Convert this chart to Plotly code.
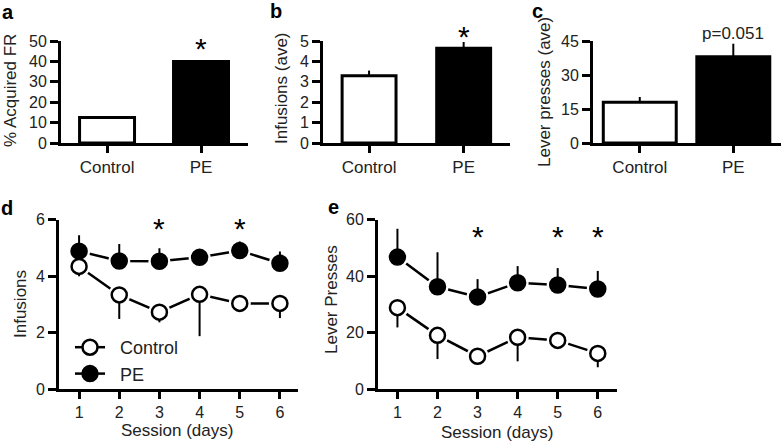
import plotly.graph_objects as go

W, H = 781, 443

# ---------------- data ----------------
groups = ["Control", "PE"]
acquired_fr = [12.5, 40.0]
infusions_ave = [3.3, 4.65]
infusions_ave_err = [0.25, 0.3]
lever_ave = [18.0, 38.0]
lever_ave_err = [2.3, 5.8]

sessions = [1, 2, 3, 4, 5, 6]
inf_control = [4.34, 3.33, 2.72, 3.35, 3.03, 3.03]
inf_control_err = [0.35, 0.85, 0.36, 1.48, 0.1, 0.52]
inf_pe = [4.88, 4.53, 4.52, 4.66, 4.9, 4.45]
inf_pe_err = [0.56, 0.6, 0.46, 0.29, 0.32, 0.42]

lp_control = [28.8, 19.0, 11.6, 18.3, 17.2, 12.6]
lp_control_err = [7.0, 8.4, 2.8, 8.5, 2.0, 4.9]
lp_pe = [46.7, 36.2, 32.6, 37.6, 36.8, 35.4]
lp_pe_err = [10.0, 12.2, 6.3, 5.9, 6.0, 6.4]

sig_a = [("PE", 48.5)]
sig_b = [("PE", 5.44)]
pval_c = [("PE", 48.5, "p=0.051")]
sig_d = [(3, 5.84), (5, 5.84)]
sig_e = [(3, 55.4), (5, 55.4), (6, 55.4)]

FONT = "Liberation Sans, Arial, Helvetica, sans-serif"
TXT = "#222"


def px(x):
    return x / W


def py(y):
    return 1 - y / H


fig = go.Figure()

# ---------------- bar panels ----------------
bar_panels = [
    ("x", "y", acquired_fr, [0, 0], 0.585),
    ("x2", "y2", infusions_ave, infusions_ave_err, 0.57),
    ("x3", "y3", lever_ave, lever_ave_err, 0.78),
]
for xa, ya, vals, errs, bw in bar_panels:
    fig.add_trace(go.Bar(
        x=groups, y=vals, xaxis=xa, yaxis=ya, width=bw,
        marker=dict(color=["white", "black"], line=dict(color="black", width=3)),
        error_y=dict(type="data", symmetric=False, array=errs,
                     arrayminus=[0] * len(errs), color="black", thickness=2, width=0,
                     visible=any(e > 0 for e in errs)),
        showlegend=False, hoverinfo="skip",
    ))


# ---------------- line panels ----------------
def add_lines(xa, ya, ctrl, ctrl_err, pe, pe_err):
    for vals in (pe, ctrl):
        fig.add_trace(go.Scatter(
            x=sessions, y=vals, xaxis=xa, yaxis=ya, mode="lines",
            line=dict(color="black", width=2.5), showlegend=False, hoverinfo="skip"))
    for vals in (pe, ctrl):
        fig.add_trace(go.Scatter(
            x=sessions, y=vals, xaxis=xa, yaxis=ya, mode="markers",
            marker=dict(symbol="circle", size=22, color="white", line=dict(width=0)),
            showlegend=False, hoverinfo="skip"))
    fig.add_trace(go.Scatter(
        x=sessions, y=pe, xaxis=xa, yaxis=ya, mode="markers",
        marker=dict(symbol="circle", size=15, color="black", line=dict(color="black", width=2.5)),
        error_y=dict(type="data", symmetric=False, array=pe_err, arrayminus=[0] * 6,
                     color="black", thickness=2, width=0),
        showlegend=False, hoverinfo="skip"))
    fig.add_trace(go.Scatter(
        x=sessions, y=ctrl, xaxis=xa, yaxis=ya, mode="markers",
        marker=dict(symbol="circle", size=15, color="white", line=dict(color="black", width=2.5)),
        error_y=dict(type="data", symmetric=False, array=[0] * 6, arrayminus=ctrl_err,
                     color="black", thickness=2, width=0),
        showlegend=False, hoverinfo="skip"))


add_lines("x4", "y4", inf_control, inf_control_err, inf_pe, inf_pe_err)
add_lines("x5", "y5", lp_control, lp_control_err, lp_pe, lp_pe_err)

# legend entries
for name, fill in (("Control", "white"), ("PE", "black")):
    fig.add_trace(go.Scatter(
        x=[None], y=[None], xaxis="x4", yaxis="y4", mode="lines+markers",
        name="\u00a0\u00a0" + name,
        line=dict(color="black", width=2.5),
        marker=dict(symbol="circle", size=15, color=fill, line=dict(color="black", width=2.5)),
        showlegend=True, hoverinfo="skip"))

# ---------------- axes ----------------
axcommon = dict(showline=True, linewidth=3, linecolor="black", ticks="outside",
                ticklen=8, tickwidth=3, tickcolor="black", showgrid=False,
                zeroline=False, automargin=False, fixedrange=True,
                tickfont=dict(family=FONT, size=16, color=TXT))
catfont = dict(family=FONT, size=17, color=TXT)

top_y = [py(143), py(41)]
bot_y = [py(389), py(219.5)]

fig.update_layout(
    template="none",
    width=W, height=H, autosize=False,
    margin=dict(l=0, r=0, t=0, b=0, pad=0, autoexpand=False),
    paper_bgcolor="white", plot_bgcolor="white",
    font=dict(family=FONT, color=TXT),
    showlegend=True,
    legend=dict(x=px(70), y=py(329), xanchor="left", yanchor="top",
                font=dict(family=FONT, size=18, color=TXT),
                bgcolor="rgba(0,0,0,0)", borderwidth=0, tracegroupgap=0, itemwidth=30),
    xaxis=dict(axcommon, domain=[px(61), px(248)], anchor="y", type="category",
               range=[-0.49, 1.5], ticklen=7, tickfont=catfont),
    yaxis=dict(axcommon, domain=top_y, anchor="x", range=[0, 50], tickvals=[0, 10, 20, 30, 40, 50]),
    xaxis2=dict(axcommon, domain=[px(323), px(510)], anchor="y2", type="category",
                range=[-0.487, 1.49], ticklen=7, tickfont=catfont),
    yaxis2=dict(axcommon, domain=top_y, anchor="x2", range=[0, 5], tickvals=[0, 1, 2, 3, 4, 5]),
    xaxis3=dict(axcommon, domain=[px(593), px(781)], anchor="y3", type="category",
                range=[-0.5, 1.51], ticklen=7, tickfont=catfont),
    yaxis3=dict(axcommon, domain=top_y, anchor="x3", range=[0, 45], tickvals=[0, 15, 30, 45]),
    xaxis4=dict(axcommon, domain=[px(59), px(298)], anchor="y4", range=[0.5, 6.45],
                tickvals=sessions, ticklen=7),
    yaxis4=dict(axcommon, domain=bot_y, anchor="x4", range=[0, 6], tickvals=[0, 2, 4, 6]),
    xaxis5=dict(axcommon, domain=[px(378), px(617)], anchor="y5", range=[0.515, 6.48],
                tickvals=sessions, ticklen=7),
    yaxis5=dict(axcommon, domain=bot_y, anchor="x5", range=[0, 60], tickvals=[0, 20, 40, 60]),
)

ann = []
# panel letters
for letter, x, y in [("a", 8, 12), ("b", 276, 11), ("c", 537, 11), ("d", 7, 208), ("e", 333, 207)]:
    ann.append(dict(text=letter, x=px(x), y=py(y), xref="paper", yref="paper",
                    xanchor="center", yanchor="middle", showarrow=False,
                    font=dict(family=FONT, size=20, color="black", weight="bold")))
# y titles
for t, x, y in [("% Acquired FR", 10, 91), ("Infusions (ave)", 282, 88),
                ("Lever presses (ave)", 544, 92), ("Infusions", 20, 304),
                ("Lever Presses", 331, 300)]:
    ann.append(dict(text=t, x=px(x), y=py(y), xref="paper", yref="paper", textangle=-90,
                    xanchor="center", yanchor="middle", showarrow=False,
                    font=dict(family=FONT, size=17, color=TXT)))
# x titles
for t, x, y in [("Session (days)", 177, 430), ("Session (days)", 497, 432)]:
    ann.append(dict(text=t, x=px(x), y=py(y), xref="paper", yref="paper",
                    xanchor="center", yanchor="middle", showarrow=False,
                    font=dict(family=FONT, size=17, color=TXT)))
# significance stars (vertical position through the axis domain so they may sit above the range)
panel_ranges = {"y": 50, "y2": 5, "y4": 6, "y5": 60}
for (xa, ya, marks) in [("x", "y", sig_a), ("x2", "y2", sig_b), ("x4", "y4", sig_d), ("x5", "y5", sig_e)]:
    for sx, sy in marks:
        ann.append(dict(text="*", x=sx, y=sy / panel_ranges[ya], xref=xa, yref=ya + " domain",
                        xanchor="center", yanchor="middle", showarrow=False, yshift=-4,
                        font=dict(family=FONT, size=30, color="black")))
for sx, sy, txt in pval_c:
    ann.append(dict(text=txt, x=sx, y=sy / 45, xref="x3", yref="y3 domain", xanchor="center",
                    yanchor="middle", showarrow=False,
                    font=dict(family=FONT, size=17, color=TXT)))

fig.update_layout(annotations=ann)
fig.write_html("out.html", config={"displayModeBar": False, "staticPlot": True},
               post_script="document.body.style.margin='0';")
